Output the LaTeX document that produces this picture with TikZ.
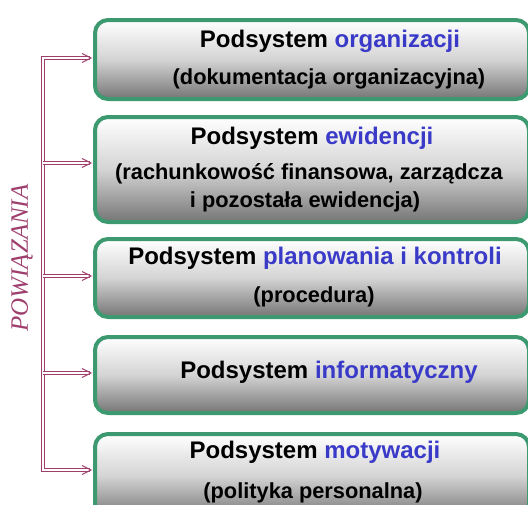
\documentclass[tikz,border=0pt]{standalone}
\usepackage{fontspec}
\setmainfont{Liberation Sans}[BoldFont={Liberation Sans Bold}]
\newfontfamily\boldsans{Liberation Sans Bold}
\newfontfamily\pwfont{Liberation Serif Italic}
\definecolor{boxgreen}{HTML}{3D9970}
\definecolor{linkc}{HTML}{9E3F6E}
\definecolor{hl}{HTML}{3A3AC8}
\begin{document}
\begin{tikzpicture}[x=1pt,y=-1pt,
  box/.style={draw=boxgreen, line width=4pt, rounded corners=13pt,
    top color=white, bottom color=black!54, middle color=black!17,
    minimum width=434pt, inner sep=0pt, anchor=north west},
  head/.style={font=\boldsans\fontsize{24}{28}\selectfont, anchor=base, inner sep=0pt},
  sub/.style={font=\boldsans\fontsize{21.8}{26}\selectfont, anchor=base, inner sep=0pt},
  link/.style={draw=linkc, double=white, double distance=2pt, line width=1.1pt},
  barb/.style={draw=linkc, line width=1.1pt, line join=miter}
]
\useasboundingbox (0,0) rectangle (528,504);
\clip (0,0) rectangle (528,504);
\fill[white] (0,0) rectangle (528,504);
% boxes
\node[box, minimum height=79pt] (b1) at (93,18) {};
\node[box, minimum height=105pt] (b2) at (93,115) {};
\node[box, minimum height=78pt] (b3) at (93,237) {};
\node[box, minimum height=76pt] (b4) at (93,335) {};
\node[box, minimum height=84pt] (b5) at (93,432) {};
% texts
\node[head] (t1a) at (330,47) {Podsystem \textcolor{hl}{organizacji}};
\node[sub] (t1b) at (329,84) {(dokumentacja organizacyjna)};
\node[head] (t2a) at (312,144) {Podsystem \textcolor{hl}{ewidencji}};
\node[sub] (t2b) at (309,179) {(rachunkowość finansowa, zarządcza};
\node[sub] (t2c) at (305,207) {i pozostała ewidencja)};
\node[head] (t3a) at (315,264) {Podsystem \textcolor{hl}{planowania i kontroli}};
\node[sub] (t3b) at (314,302) {(procedura)};
\node[head] (t4a) at (329,378) {Podsystem \textcolor{hl}{informatyczny}};
\node[head] (t5a) at (315,458) {Podsystem \textcolor{hl}{motywacji}};
\node[sub] (t5b) at (313,498) {(polityka personalna)};
% connectors
\coordinate (c1) at (43,58);
\coordinate (c2) at (43,163);
\coordinate (c3) at (43,276);
\coordinate (c4) at (43,373);
\coordinate (c5) at (43,470);
\coordinate (e1) at ([xshift=-2pt]b1.west |- c1);
\coordinate (e2) at ([xshift=-2pt]b2.west |- c2);
\coordinate (e3) at ([xshift=-2pt]b3.west |- c3);
\coordinate (e4) at ([xshift=-2pt]b4.west |- c4);
\coordinate (e5) at ([xshift=-2pt]b5.west |- c5);
\draw[link] (c3) -- (c1) -- ([xshift=-1pt]e1);
\draw[link] (c3) -- (c5) -- ([xshift=-1pt]e5);
\draw[link] (c2) -- ([xshift=-1pt]e2);
\draw[link] (c3) -- ([xshift=-1pt]e3);
\draw[link] (c4) -- ([xshift=-1pt]e4);
\foreach \e in {e1,e2,e3,e4,e5}{
  \draw[barb] ([xshift=-9pt,yshift=-4.5pt]\e) -- (\e) -- ([xshift=-9pt,yshift=4.5pt]\e);
}
% label
\node[rotate=90, text=linkc, font=\pwfont\fontsize{25}{30}\selectfont, inner sep=0pt] (pw) at (22,258) {POWIĄZANIA};
\end{tikzpicture}
\end{document}
